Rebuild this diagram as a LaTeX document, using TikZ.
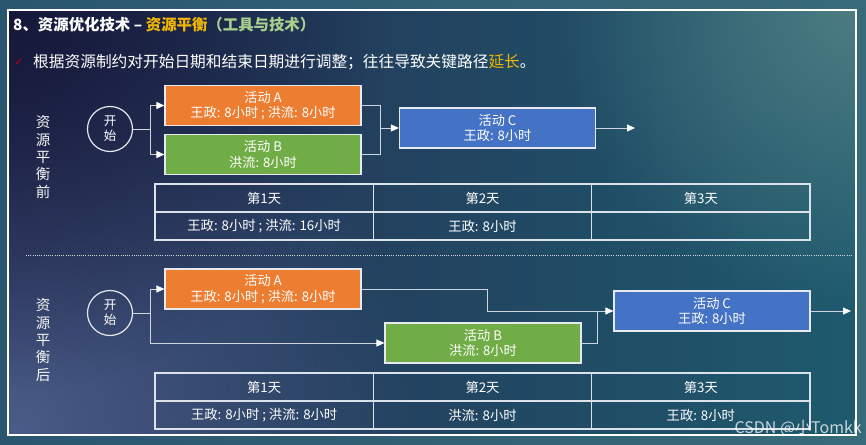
\documentclass[tikz,border=0pt]{standalone}
\usepackage{fontspec}
\setmainfont{Noto Sans CJK SC}
\newfontfamily\dejavu{DejaVu Sans}
\usetikzlibrary{arrows.meta,fadings}

\definecolor{actA}{HTML}{ED7D31}
\definecolor{actB}{HTML}{70AD47}
\definecolor{actC}{HTML}{4472C4}
\definecolor{lnc}{HTML}{CDD5DF}
\definecolor{boxln}{HTML}{E6EAF0}
\definecolor{tabln}{HTML}{DCE2EA}
\definecolor{gold}{HTML}{F2B705}
\definecolor{lgreen}{HTML}{A9D18E}
\definecolor{chk}{HTML}{C00000}
\definecolor{outL}{HTML}{2A5670}
\definecolor{outR}{HTML}{386B7A}
\definecolor{inL}{HTML}{262E54}
\definecolor{inM}{HTML}{1D4464}
\definecolor{inR}{HTML}{1E5A6E}
\definecolor{darkTL}{HTML}{15183A}
\definecolor{lightBL}{HTML}{4A5D88}
\definecolor{lightTR}{HTML}{4D7C82}

\tikzfading[name=radfade, inner color=transparent!0, outer color=transparent!100]

\tikzset{
  actbox/.style={draw=boxln, line width=1.2pt, minimum width=196, minimum height=39.5,
    inner sep=0pt, align=center, text=white, font=\fontsize{13.2}{15.5}\selectfont},
  startnode/.style={circle, draw=boxln, line width=1.2pt, minimum size=45, inner sep=0pt,
    align=center, text=white, font=\fontsize{12.5}{15}\selectfont},
  cell/.style={draw=tabln, line width=1.3pt, minimum width=218.33, minimum height=28,
    inner sep=0pt, text=white, font=\fontsize{13.3}{15}\selectfont},
  vlabel/.style={align=center, text=white!92!gray, inner sep=0pt, font=\fontsize{14.5}{17.3}\selectfont},
  conn/.style={draw=lnc, line width=1pt},
  arr/.style={conn, -{Triangle[length=8pt,width=7pt,color=white]}},
}

\begin{document}
\begin{tikzpicture}[x=1pt,y=-1pt]
\useasboundingbox (0,0) rectangle (866,444);

% background
\shade[left color=outL, right color=outR] (0,0) rectangle (866,444);
\begin{scope}
  \clip (8,10) rectangle (856,435);
  \shade[left color=inL, middle color=inM, right color=inR] (8,10) rectangle (856,435);
  \fill[lightBL, path fading=radfade] (8,435) circle (420);
  \fill[darkTL, path fading=radfade] (8,10) circle (380);
  \fill[lightTR, path fading=radfade] (856,10) circle (300);
\end{scope}
\draw[white, line width=1.5pt] (8,10) rectangle (856,435);

% title
\node[anchor=west, inner sep=0pt, text=white, font=\fontsize{15.4}{18}\selectfont\bfseries] (T)
  at (13,25) {8、资源优化技术 – \textcolor{gold}{资源平衡}\textcolor{lgreen}{（工具与技术）}};
\node[text=chk, inner sep=0pt, font=\dejavu\fontsize{11}{12}\selectfont] (ck) at (19,62) {✓};
\node[anchor=west, inner sep=0pt, text=white, font=\fontsize{15.7}{18}\selectfont] (Sub)
  at (33,62) {根据资源制约对开始日期和结束日期进行调整；往往导致关键路径\textcolor{gold}{延长}。};

% ---------- before ----------
\node[vlabel] (L1) at (43,157) {资\\源\\平\\衡\\前};
\node[startnode] (S1) at (110,129) {开\\始};
\node[actbox, fill=actA] (A1) at (263,105.5) {活动 A\\王政: 8小时 ; 洪流: 8小时};
\node[actbox, fill=actB] (B1) at (263,154.5) {活动 B\\洪流: 8小时};
\node[actbox, fill=actC, minimum height=40] (C1) at (497.5,128) {活动 C\\王政: 8小时};
\coordinate (j1) at (150,129);
\coordinate (m1) at (380,128);
\coordinate (e1) at (635,128);
\draw[conn] (S1.east) -- (j1);
\draw[arr] (j1) |- (A1.west);
\draw[arr] (j1) |- (B1.west);
\draw[conn] (A1.east) -| (m1);
\draw[conn] (B1.east) -| (m1);
\draw[arr] (m1) -- (C1.west);
\draw[arr] (C1.east) -- (e1);

\node[cell] (t11) at (264.17,198) {第1天};
\node[cell] (t12) at (482.5,198) {第2天};
\node[cell] (t13) at (700.83,198) {第3天};
\node[cell] (t21) at (264.17,226) {王政: 8小时 ; 洪流: 16小时};
\node[cell] (t22) at (482.5,226) {王政: 8小时};
\node[cell] (t23) at (700.83,226) {};

% separator
\draw[lnc, line width=1pt, dash pattern=on 1pt off 1.2pt] (26,255) -- (853,255);

% ---------- after ----------
\node[vlabel] (L2) at (43,340) {资\\源\\平\\衡\\后};
\node[startnode] (S2) at (110,313) {开\\始};
\node[actbox, fill=actA, minimum height=40] (A2) at (263,289) {活动 A\\王政: 8小时 ; 洪流: 8小时};
\node[actbox, fill=actB, minimum height=40] (B2) at (483,343) {活动 B\\洪流: 8小时};
\node[actbox, fill=actC, minimum height=40] (C2) at (712,311) {活动 C\\王政: 8小时};
\coordinate (j2) at (150,313);
\coordinate (k2) at (487,311);
\coordinate (m2) at (597,311);
\coordinate (e2) at (851,311);
\draw[conn] (S2.east) -- (j2);
\draw[arr] (j2) |- (A2.west);
\draw[arr] (j2) |- (B2.west);
\draw[conn] (A2.east) -| (k2) -- (m2);
\draw[conn] (B2.east) -| (m2);
\draw[arr] (m2) -- (C2.west);
\draw[arr] (C2.east) -- (e2);

\node[cell] (u11) at (264.17,387) {第1天};
\node[cell] (u12) at (482.5,387) {第2天};
\node[cell] (u13) at (700.83,387) {第3天};
\node[cell] (u21) at (264.17,415) {王政: 8小时 ; 洪流: 8小时};
\node[cell] (u22) at (482.5,415) {洪流: 8小时};
\node[cell] (u23) at (700.83,415) {王政: 8小时};

% watermark
\node[anchor=east, inner sep=0pt, text=white, opacity=0.75, font=\fontsize{16}{18}\selectfont] (wm)
  at (862,428) {CSDN @小Tomkk};
\end{tikzpicture}
\end{document}
